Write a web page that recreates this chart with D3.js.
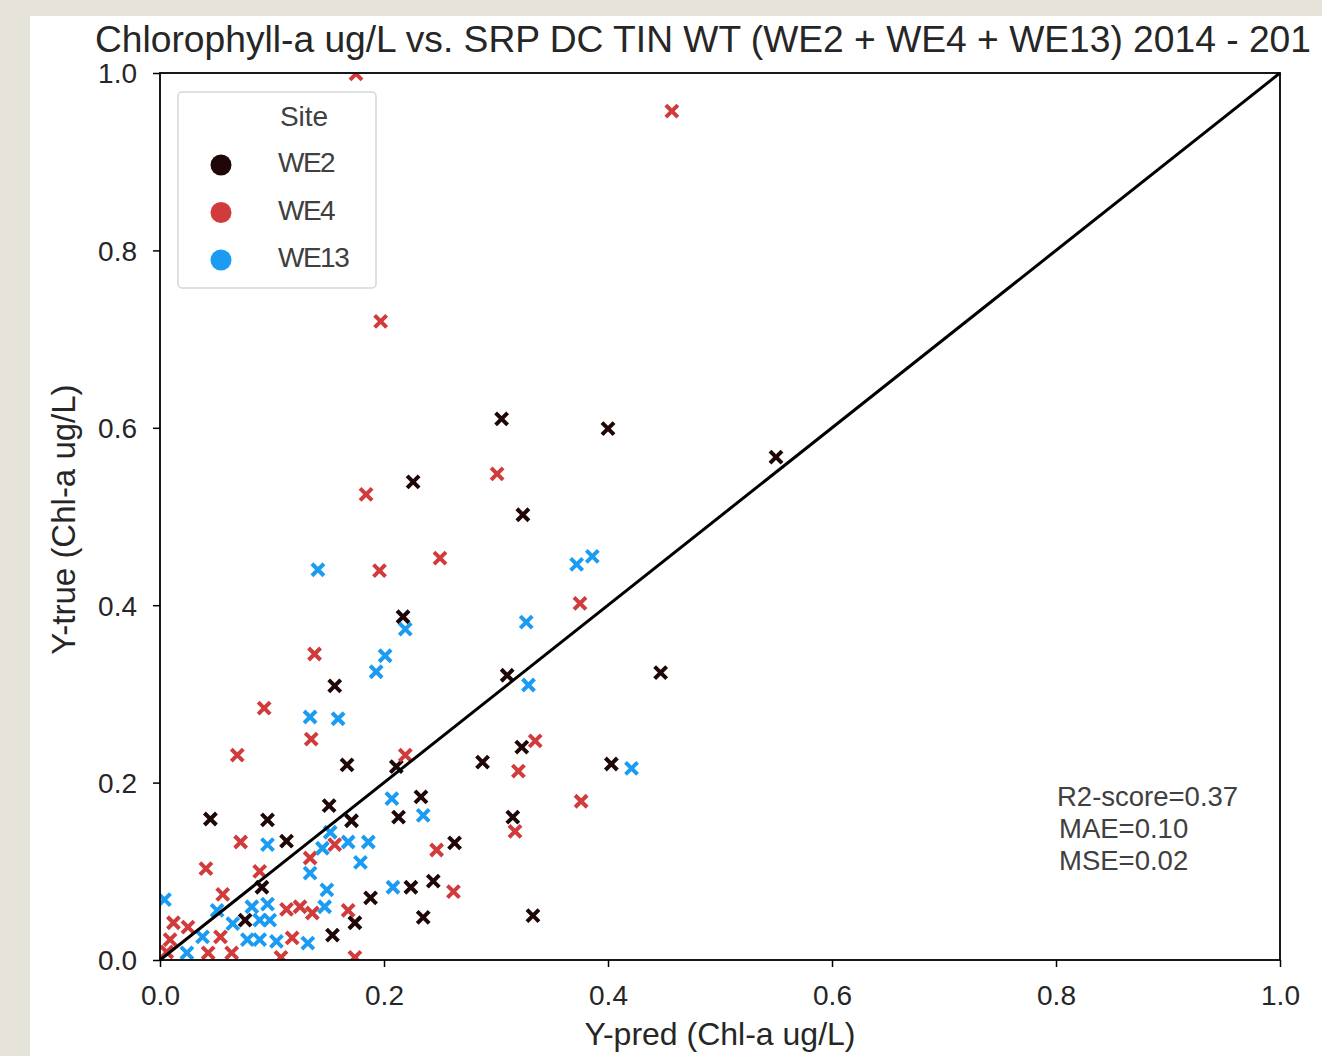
<!DOCTYPE html>
<html><head><meta charset="utf-8">
<script src="https://cdn.jsdelivr.net/npm/d3@7"></script>
<style>
html,body{margin:0;padding:0;background:#e6e4da;overflow:hidden;}
svg{display:block;}
</style></head>
<body>
<script>
const sites = ["WE2", "WE4", "WE13"];
const siteColors = ["#1f0707", "#d23b3b", "#1b9cf2"];
const tickValues = [0, 0.2, 0.4, 0.6, 0.8, 1.0];
const statsLines = ["R2-score=0.37", "MAE=0.10", "MSE=0.02"];

const we2Pred = [0.305,0.400,0.550,0.226,0.324,0.217,0.447,0.310,0.156,0.323,0.167,0.288,0.403,0.211,0.045,0.096,0.151,0.233,0.113,0.171,0.213,0.315,0.263,0.224,0.244,0.076,0.091,0.188,0.174,0.154,0.235,0.333];
const we2True = [0.610,0.599,0.567,0.539,0.502,0.387,0.324,0.321,0.309,0.240,0.220,0.223,0.221,0.218,0.159,0.158,0.174,0.184,0.134,0.157,0.161,0.161,0.132,0.082,0.089,0.045,0.082,0.070,0.042,0.028,0.048,0.050];

const we4Pred = [0.175,0.457,0.197,0.184,0.301,0.196,0.250,0.375,0.138,0.093,0.135,0.069,0.335,0.219,0.320,0.376,0.317,0.041,0.072,0.247,0.262,0.089,0.056,0.134,0.156,0.168,0.136,0.125,0.113,0.118,0.174,0.108,0.012,0.025,0.009,0.043,0.054,0.064,0.006];
const we4True = [0.999,0.957,0.720,0.525,0.548,0.439,0.453,0.402,0.345,0.284,0.249,0.231,0.247,0.231,0.213,0.179,0.145,0.103,0.133,0.124,0.077,0.100,0.074,0.115,0.130,0.056,0.053,0.060,0.057,0.025,0.003,0.003,0.042,0.037,0.023,0.008,0.026,0.008,0.009];

const we13Pred = [0.141,0.372,0.386,0.327,0.219,0.201,0.193,0.329,0.134,0.159,0.421,0.207,0.235,0.168,0.186,0.179,0.145,0.152,0.096,0.134,0.149,0.147,0.208,0.132,0.004,0.082,0.096,0.089,0.098,0.065,0.051,0.078,0.089,0.104,0.038,0.024];
const we13True = [0.440,0.446,0.455,0.381,0.373,0.343,0.325,0.310,0.274,0.272,0.216,0.182,0.163,0.133,0.133,0.110,0.126,0.144,0.130,0.098,0.079,0.060,0.082,0.019,0.068,0.060,0.063,0.045,0.045,0.041,0.056,0.023,0.023,0.021,0.026,0.008];

const W = 1322, H = 1056;
const svg = d3.select("body").append("svg").attr("width", W).attr("height", H);
svg.append("rect").attr("x", 30).attr("y", 16).attr("width", W - 30).attr("height", H - 16).attr("fill", "#ffffff");

const m = {left: 160, right: 1280, top: 73, bottom: 960};
const x = d3.scaleLinear().domain([0, 1]).range([m.left, m.right]);
const y = d3.scaleLinear().domain([0, 1]).range([m.bottom, m.top]);
const font = "'Liberation Sans', Arial, sans-serif";
const textCol = "#262626";

// title (as visible in the reference, which ends at the picture's edge)
svg.append("text").attr("x", 95).attr("y", 52).attr("font-family", font).attr("font-size", 37.2)
  .attr("fill", textCol).text("Chlorophyll-a ug/L vs. SRP DC TIN WT (WE2 + WE4 + WE13) 2014 - 201");

// clip
svg.append("clipPath").attr("id", "plotclip").append("rect")
  .attr("x", m.left).attr("y", m.top).attr("width", m.right - m.left).attr("height", m.bottom - m.top);

const series = [
  {name: sites[0], color: siteColors[0], xs: we2Pred, ys: we2True},
  {name: sites[1], color: siteColors[1], xs: we4Pred, ys: we4True},
  {name: sites[2], color: siteColors[2], xs: we13Pred, ys: we13True}
];

const plot = svg.append("g").attr("clip-path", "url(#plotclip)");
const s = 6;
series.forEach(ser => {
  const pts = ser.xs.map((v, i) => [v, ser.ys[i]]);
  plot.append("g").selectAll("path").data(pts).join("path")
    .attr("d", d => {
      const cx = x(d[0]), cy = y(d[1]);
      return `M${cx - s},${cy - s}L${cx + s},${cy + s}M${cx - s},${cy + s}L${cx + s},${cy - s}`;
    })
    .attr("stroke", ser.color).attr("stroke-width", 4).attr("stroke-linecap", "butt").attr("fill", "none");
});

// identity line
svg.append("line").attr("x1", x(0)).attr("y1", y(0)).attr("x2", x(1)).attr("y2", y(1))
  .attr("stroke", "#000").attr("stroke-width", 3);

// axes
const xAxis = d3.axisBottom(x).tickValues(tickValues).tickFormat(d3.format(".1f")).tickSize(7);
const yAxis = d3.axisLeft(y).tickValues(tickValues).tickFormat(d3.format(".1f")).tickSize(7);
const gx = svg.append("g").attr("transform", `translate(0,${m.bottom})`).call(xAxis);
const gy = svg.append("g").attr("transform", `translate(${m.left},0)`).call(yAxis);
[gx, gy].forEach(g => {
  g.select(".domain").remove();
  g.selectAll(".tick line").attr("stroke", "#000").attr("stroke-width", 1.5);
  g.selectAll(".tick text").attr("font-family", font).attr("font-size", 28).attr("fill", textCol);
});
gx.selectAll(".tick text").attr("y", 45).attr("dy", 0);
gy.selectAll(".tick text").attr("x", -23).attr("dy", "0.35em");

// frame
svg.append("rect").attr("x", m.left).attr("y", m.top).attr("width", m.right - m.left).attr("height", m.bottom - m.top)
  .attr("fill", "none").attr("stroke", "#000").attr("stroke-width", 1.8);

// axis labels
svg.append("text").attr("x", (m.left + m.right) / 2).attr("y", 1045).attr("text-anchor", "middle")
  .attr("font-family", font).attr("font-size", 32).attr("fill", textCol).text("Y-pred (Chl-a ug/L)");
svg.append("text").attr("transform", `translate(75,${(m.top + m.bottom) / 2 + 3}) rotate(-90)`).attr("text-anchor", "middle")
  .attr("font-family", font).attr("font-size", 33).attr("fill", textCol).text("Y-true (Chl-a ug/L)");

// legend
const lg = svg.append("g");
lg.append("rect").attr("x", 178).attr("y", 92).attr("width", 198).attr("height", 196).attr("rx", 4)
  .attr("fill", "#fff").attr("fill-opacity", 0.85).attr("stroke", "#d6d6d6").attr("stroke-width", 1.5);
lg.append("text").attr("x", 304).attr("y", 126).attr("text-anchor", "middle").attr("font-family", font)
  .attr("font-size", 28).attr("fill", "#404040").text("Site");
series.forEach((ser, i) => {
  const cy = 165 + i * 47.5;
  lg.append("circle").attr("cx", 221).attr("cy", cy).attr("r", 10.5).attr("fill", ser.color);
  lg.append("text").attr("x", 278).attr("y", cy + 7).attr("font-family", font).attr("font-size", 28)
    .attr("letter-spacing", "-1.5px").attr("fill", "#404040").text(ser.name);
});

// stats
statsLines.forEach((t, i) => {
  svg.append("text").attr("x", 1057 + (i > 0 ? 2 : 0)).attr("y", 806 + i * 32).attr("font-family", font).attr("font-size", 27.5)
    .attr("fill", "#404040").text(t);
});
</script>
</body></html>
